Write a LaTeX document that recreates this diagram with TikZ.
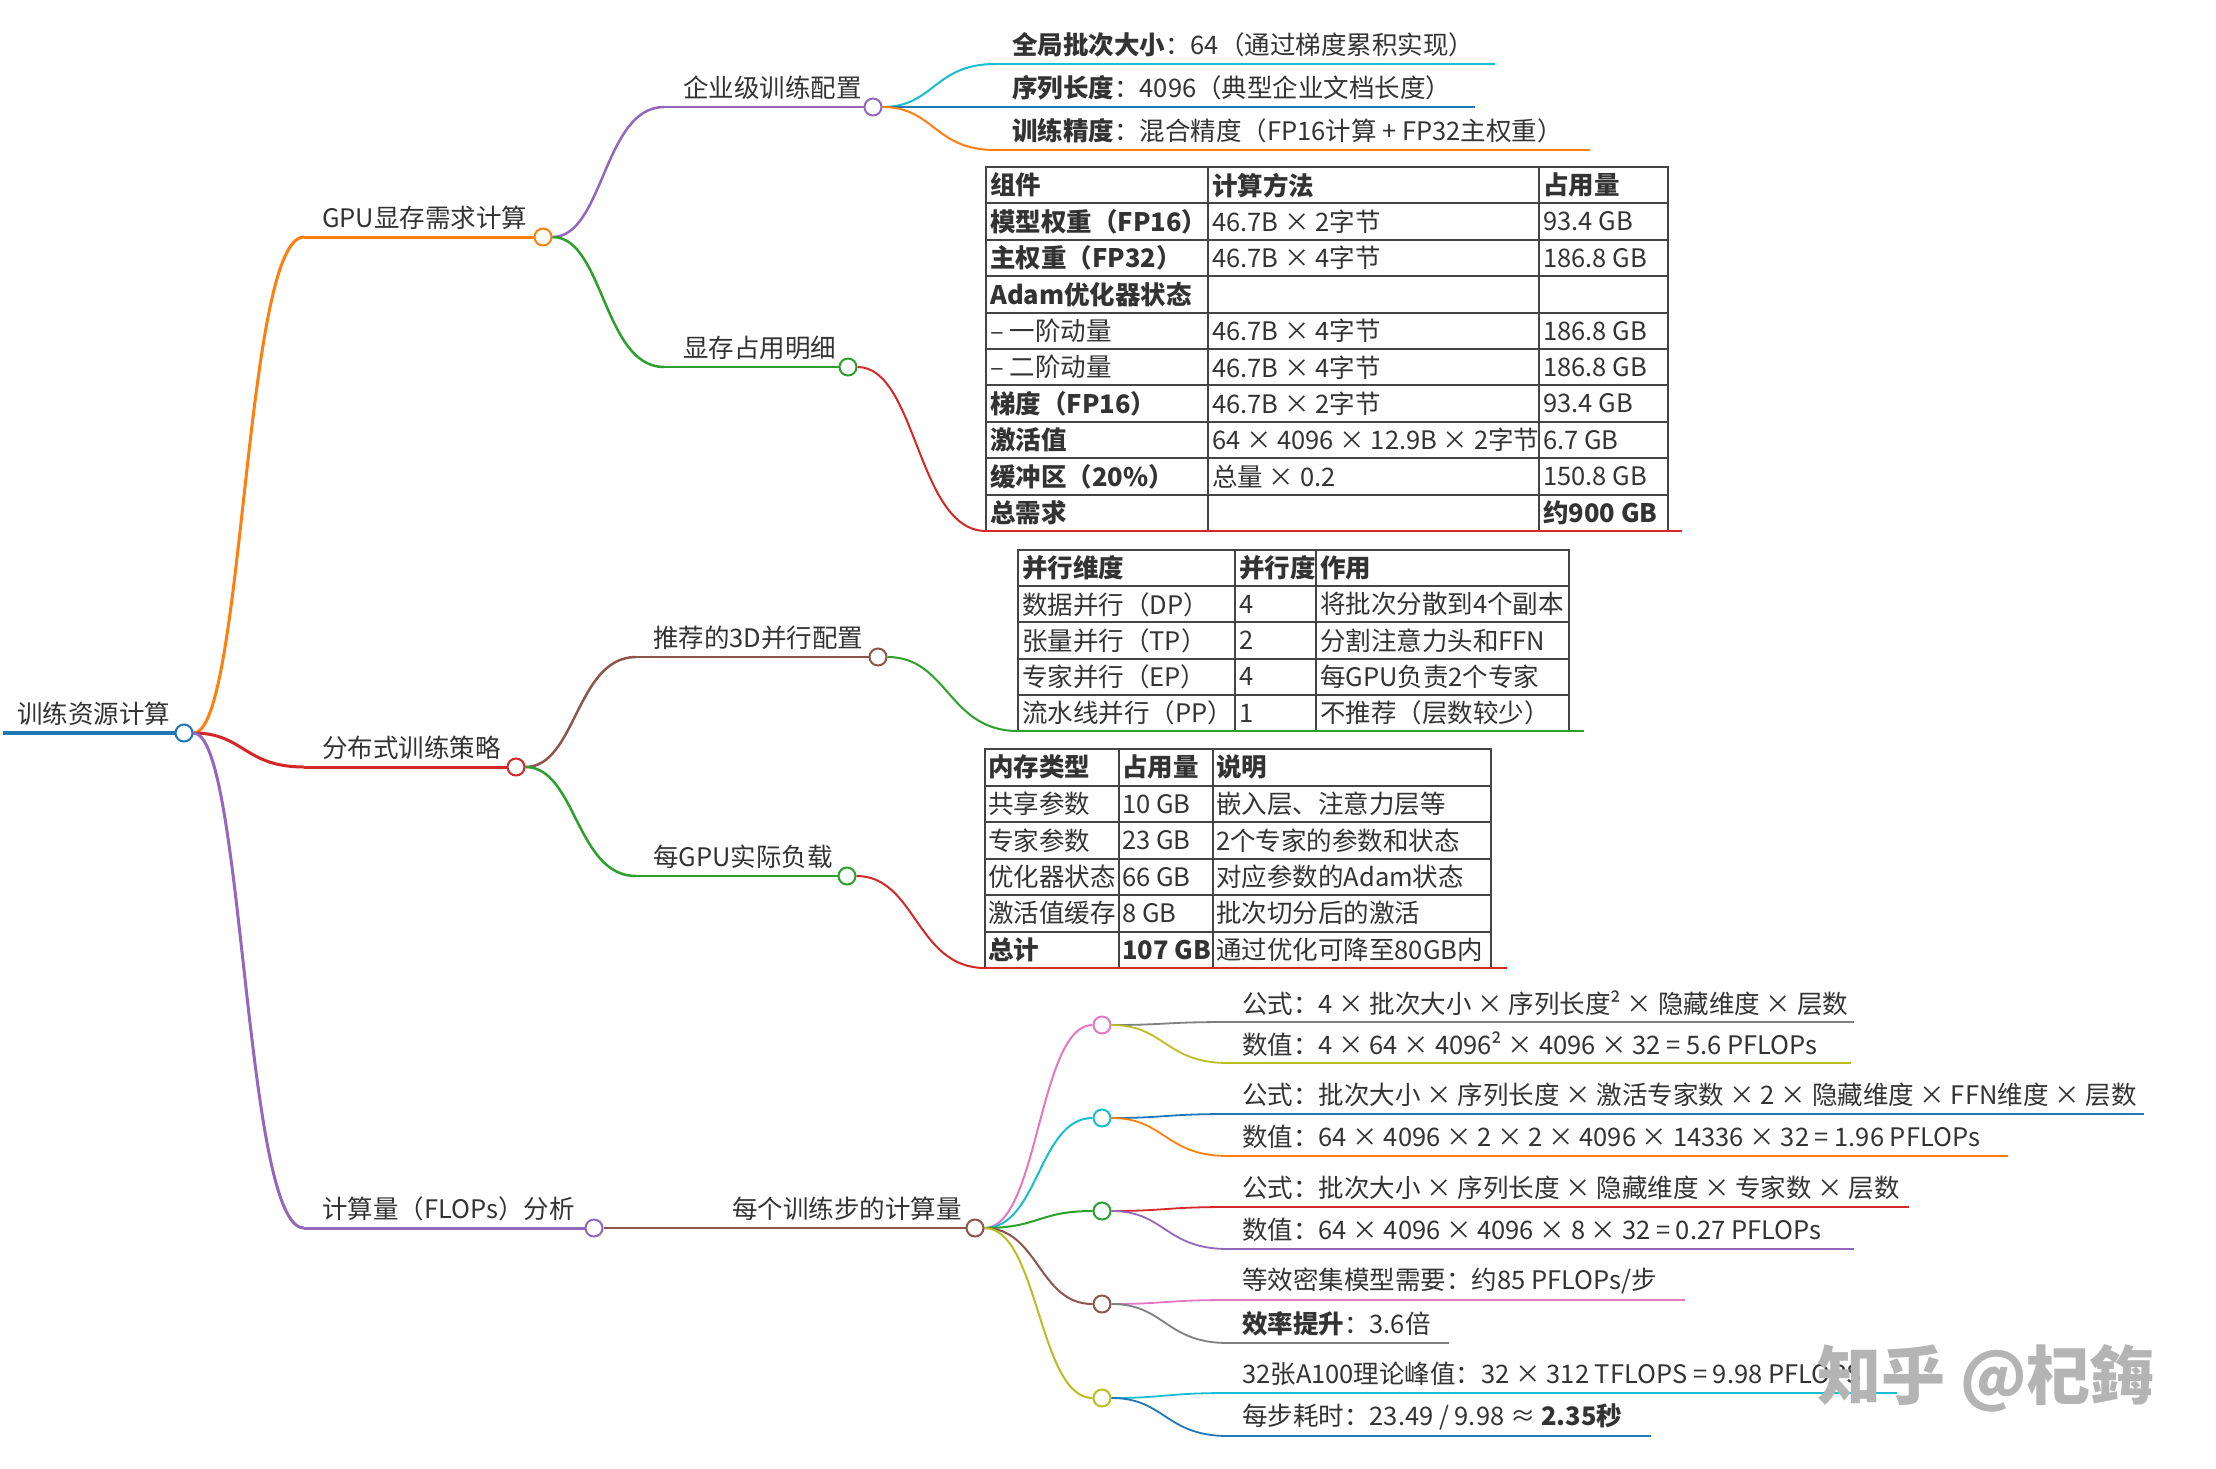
\documentclass[tikz,border=0pt]{standalone}
\usepackage{fontspec}
\setmainfont{Noto Sans CJK SC}
\usetikzlibrary{calc}
\definecolor{cBlue}{HTML}{1F77B4}
\definecolor{cOrange}{HTML}{FF7F0E}
\definecolor{cGreen}{HTML}{2CA02C}
\definecolor{cRed}{HTML}{D62728}
\definecolor{cPurple}{HTML}{9467BD}
\definecolor{cBrown}{HTML}{8C564B}
\definecolor{cPink}{HTML}{E377C2}
\definecolor{cGray}{HTML}{7F7F7F}
\definecolor{cOlive}{HTML}{BCBD22}
\definecolor{cCyan}{HTML}{17BECF}
\definecolor{txtc}{HTML}{333333}
\definecolor{tblc}{HTML}{444444}
\definecolor{wmc}{HTML}{B4B4B4}
\newcommand\fs{\fontsize{25.5}{30}\selectfont}
\tikzset{
  txt/.style={anchor=west, inner sep=0pt, text=txtc, font=\fs},
  cell/.style={anchor=west, inner sep=0pt, text=txtc, font=\fs},
  dot/.style={circle, draw=#1, fill=white, line width=2pt, minimum size=17pt, inner sep=0pt},
  tbl/.style={draw=tblc, line width=2pt},
}
% colour, width, from, to
\newcommand\mmlink[4]{%
  \draw[#1, line width=#2] let \p1=(#3), \p2=(#4) in
    (#3) .. controls ({(\x1+\x2)/2},\y1) and ({(\x1+\x2)/2},\y2) .. (#4);}
\begin{document}
\begin{tikzpicture}[x=1pt,y=-1pt]
\useasboundingbox (0,0) rectangle (2216,1468);
\fill[white] (0,0) rectangle (2216,1468);

% ---------------- root
\coordinate (r0) at (3,733);
\node[dot=cBlue] (r) at (184,733) {};
\node[txt] (rT) at (17,714) {训练资源计算};
\draw[cBlue, line width=4.5pt] (r0) -- (r);

% ---------------- level 1
\coordinate (g0) at (304,237);
\node[dot=cOrange] (g) at (543,237) {};
\node[txt] (gT) at (322,218) {GPU显存需求计算};
\coordinate (d0) at (304,767);
\node[dot=cRed] (d) at (516,767) {};
\node[txt] (dT) at (322,748) {分布式训练策略};
\coordinate (f0) at (304,1228);
\node[dot=cPurple] (f) at (594,1228) {};
\node[txt] (fT) at (322,1209) {计算量（FLOPs）分析};

\mmlink{cOrange}{3pt}{r}{g0}
\draw[cOrange, line width=3pt] (g0) -- (g);
\mmlink{cRed}{3pt}{r}{d0}
\draw[cRed, line width=3pt] (d0) -- (d);
\mmlink{cPurple}{3pt}{r}{f0}
\draw[cPurple, line width=3pt] (f0) -- (f);

% ---------------- level 2
\coordinate (e0) at (664,107);
\node[dot=cPurple] (e) at (873,107) {};
\node[txt] (eT) at (683,88) {企业级训练配置};
\coordinate (m0) at (664,367);
\node[dot=cGreen] (m) at (848,367) {};
\node[txt] (mT) at (683,348) {显存占用明细};
\coordinate (p0) at (636,657);
\node[dot=cBrown] (p) at (878,657) {};
\node[txt] (pT) at (653,638) {推荐的3D并行配置};
\coordinate (w0) at (636,876);
\node[dot=cGreen] (w) at (847,876) {};
\node[txt] (wT) at (653,857) {每GPU实际负载};
\coordinate (s0) at (714,1228);
\node[dot=cBrown] (s) at (975,1228) {};
\node[txt] (sT) at (732,1209) {每个训练步的计算量};

\mmlink{cPurple}{2.5pt}{g}{e0}
\draw[cPurple, line width=2.5pt] (e0) -- (e);
\mmlink{cGreen}{2.5pt}{g}{m0}
\draw[cGreen, line width=2.5pt] (m0) -- (m);
\mmlink{cBrown}{2.5pt}{d}{p0}
\draw[cBrown, line width=2.5pt] (p0) -- (p);
\mmlink{cGreen}{2.5pt}{d}{w0}
\draw[cGreen, line width=2.5pt] (w0) -- (w);
\draw[cBrown, line width=2.5pt] (f) -- (s0) -- (s);

% ---------------- level 3: enterprise config
\coordinate (e1a) at (995,64);  \coordinate (e1b) at (1495,64);
\coordinate (e2a) at (995,107); \coordinate (e2b) at (1475,107);
\coordinate (e3a) at (995,150); \coordinate (e3b) at (1590,150);
\node[txt] (e1T) at (1012,45) {\textbf{全局批次大小}：64（通过梯度累积实现）};
\node[txt] (e2T) at (1012,88) {\textbf{序列长度}：4096（典型企业文档长度）};
\node[txt] (e3T) at (1012,131) {\textbf{训练精度}：混合精度（FP16计算 + FP32主权重）};
\mmlink{cCyan}{2pt}{e}{e1a}
\draw[cCyan, line width=2pt] (e1a) -- (e1b);
\mmlink{cBlue}{2pt}{e}{e2a}
\draw[cBlue, line width=2pt] (e2a) -- (e2b);
\mmlink{cOrange}{2pt}{e}{e3a}
\draw[cOrange, line width=2pt] (e3a) -- (e3b);

% ---------------- table 1
\draw[tbl] (986,167) rectangle (1668,531);
\foreach \ii in {1,...,9} \draw[tbl] (986,{167+36.4*\ii}) -- (1668,{167+36.4*\ii});
\draw[tbl] (1208,167) -- (1208,531);
\draw[tbl] (1539,167) -- (1539,531);
\foreach \ca/\cb/\cc [count=\ii from 0] in {
  {\textbf{组件}}/{\textbf{计算方法}}/{\textbf{占用量}},
  {\textbf{模型权重（FP16）}}/{46.7B × 2字节}/{93.4 GB},
  {\textbf{主权重（FP32）}}/{46.7B × 4字节}/{186.8 GB},
  {\textbf{Adam优化器状态}}/{}/{},
  {– 一阶动量}/{46.7B × 4字节}/{186.8 GB},
  {– 二阶动量}/{46.7B × 4字节}/{186.8 GB},
  {\textbf{梯度（FP16）}}/{46.7B × 2字节}/{93.4 GB},
  {\textbf{激活值}}/{64 × 4096 × 12.9B × 2字节}/{6.7 GB},
  {\textbf{缓冲区（20\%）}}/{总量 × 0.2}/{150.8 GB},
  {\textbf{总需求}}/{}/{\textbf{约900 GB}}}
{
  \node[cell] (ta-\ii-1) at (990,{167+36.4*(\ii+0.5)}) {\ca};
  \node[cell] (ta-\ii-2) at (1212,{167+36.4*(\ii+0.5)}) {\cb};
  \node[cell] (ta-\ii-3) at (1543,{167+36.4*(\ii+0.5)}) {\cc};
}
\coordinate (t1a) at (986,531); \coordinate (t1b) at (1682,531);
\mmlink{cRed}{2pt}{m}{t1a}
\draw[cRed, line width=2pt] (t1a) -- (t1b);

% ---------------- table 2
\draw[tbl] (1018,550) rectangle (1569,731);
\foreach \ii in {1,...,4} \draw[tbl] (1018,{550+36.2*\ii}) -- (1569,{550+36.2*\ii});
\draw[tbl] (1235,550) -- (1235,731);
\draw[tbl] (1316,550) -- (1316,731);
\foreach \ca/\cb/\cc [count=\ii from 0] in {
  {\textbf{并行维度}}/{\textbf{并行度}}/{\textbf{作用}},
  {数据并行（DP）}/{4}/{将批次分散到4个副本},
  {张量并行（TP）}/{2}/{分割注意力头和FFN},
  {专家并行（EP）}/{4}/{每GPU负责2个专家},
  {流水线并行（PP）}/{1}/{不推荐（层数较少）}}
{
  \node[cell] (tb-\ii-1) at (1022,{550+36.2*(\ii+0.5)}) {\ca};
  \node[cell] (tb-\ii-2) at (1239,{550+36.2*(\ii+0.5)}) {\cb};
  \node[cell] (tb-\ii-3) at (1320,{550+36.2*(\ii+0.5)}) {\cc};
}
\coordinate (t2a) at (1018,731); \coordinate (t2b) at (1584,731);
\mmlink{cGreen}{2pt}{p}{t2a}
\draw[cGreen, line width=2pt] (t2a) -- (t2b);

% ---------------- table 3
\draw[tbl] (985,749) rectangle (1491,968);
\foreach \ii in {1,...,5} \draw[tbl] (985,{749+36.5*\ii}) -- (1491,{749+36.5*\ii});
\draw[tbl] (1119,749) -- (1119,968);
\draw[tbl] (1213,749) -- (1213,968);
\foreach \ca/\cb/\cc [count=\ii from 0] in {
  {\textbf{内存类型}}/{\textbf{占用量}}/{\textbf{说明}},
  {共享参数}/{10 GB}/{嵌入层、注意力层等},
  {专家参数}/{23 GB}/{2个专家的参数和状态},
  {优化器状态}/{66 GB}/{对应参数的Adam状态},
  {激活值缓存}/{8 GB}/{批次切分后的激活},
  {\textbf{总计}}/{\textbf{107 GB}}/{通过优化可降至80GB内}}
{
  \node[cell] (tc-\ii-1) at (988,{749+36.5*(\ii+0.5)}) {\ca};
  \node[cell] (tc-\ii-2) at (1122,{749+36.5*(\ii+0.5)}) {\cb};
  \node[cell] (tc-\ii-3) at (1216,{749+36.5*(\ii+0.5)}) {\cc};
}
\coordinate (t3a) at (985,968); \coordinate (t3b) at (1507,968);
\mmlink{cRed}{2pt}{w}{t3a}
\draw[cRed, line width=2pt] (t3a) -- (t3b);

% ---------------- FLOPs groups
\node[dot=cPink]  (k1) at (1102,1025) {};
\node[dot=cCyan]  (k2) at (1102,1118) {};
\node[dot=cGreen] (k3) at (1102,1211) {};
\node[dot=cBrown] (k4) at (1102,1304) {};
\node[dot=cOlive] (k5) at (1102,1398) {};
\mmlink{cPink}{2pt}{s}{k1}
\mmlink{cCyan}{2pt}{s}{k2}
\mmlink{cGreen}{2pt}{s}{k3}
\mmlink{cBrown}{2pt}{s}{k4}
\mmlink{cOlive}{2pt}{s}{k5}

% leaves
\foreach \nm/\kk/\yy/\xe/\cl/\lt in {
  11/k1/1022/1854/cGray/{公式：4 × 批次大小 × 序列长度² × 隐藏维度 × 层数},
  12/k1/1063/1851/cOlive/{数值：4 × 64 × 4096² × 4096 × 32 = 5.6 PFLOPs},
  21/k2/1114/2144/cBlue/{公式：批次大小 × 序列长度 × 激活专家数 × 2 × 隐藏维度 × FFN维度 × 层数},
  22/k2/1156/2008/cOrange/{数值：64 × 4096 × 2 × 2 × 4096 × 14336 × 32 = 1.96 PFLOPs},
  31/k3/1207/1909/cRed/{公式：批次大小 × 序列长度 × 隐藏维度 × 专家数 × 层数},
  32/k3/1249/1854/cPurple/{数值：64 × 4096 × 4096 × 8 × 32 = 0.27 PFLOPs},
  41/k4/1300/1685/cPink/{等效密集模型需要：约85 PFLOPs/步},
  42/k4/1343/1449/cGray/{\textbf{效率提升}：3.6倍},
  51/k5/1393/1897/cCyan/{32张A100理论峰值：32 × 312 TFLOPS = 9.98 PFLOPS},
  52/k5/1436/1651/cBlue/{每步耗时：23.49 / 9.98 ≈ \textbf{2.35秒}}}
{
  \coordinate (la\nm) at (1228,\yy);
  \coordinate (lb\nm) at (\xe,\yy);
  \node[txt] (lt\nm) at (1242,{\yy-19}) {\lt};
  \mmlink{\cl}{1.8pt}{\kk}{la\nm}
  \draw[\cl, line width=1.8pt] (la\nm) -- (lb\nm);
}

% watermark
\node[inner sep=0pt, text=wmc, font=\fontsize{64}{70}\selectfont\bfseries] (wm) at (1986,1378) {知乎 @杞鋂};
\end{tikzpicture}
\end{document}
